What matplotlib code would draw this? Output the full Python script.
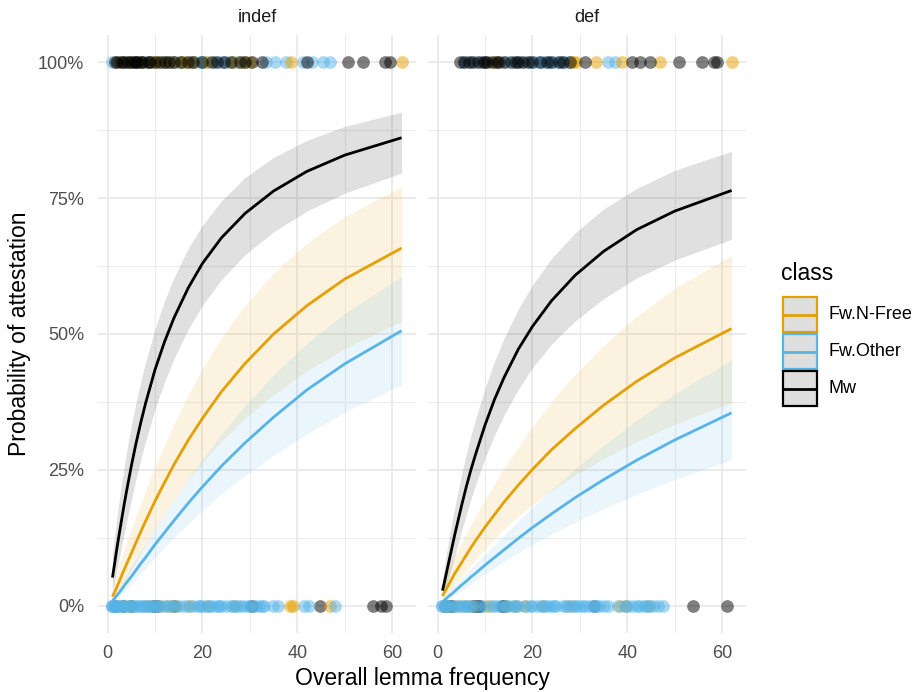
import matplotlib
matplotlib.use('Agg')
import matplotlib.pyplot as plt
from matplotlib.ticker import MultipleLocator, FuncFormatter
from matplotlib.patches import Rectangle

plt.rcParams['font.family'] = ['Liberation Sans', 'DejaVu Sans']

# ---------------- data ----------------
panels = ['indef', 'def']
classes = ['Fw.N-Free', 'Fw.Other', 'Mw']
colors = {'Fw.N-Free': '#E69F00', 'Fw.Other': '#56B4E9', 'Mw': '#000000'}

freq = [1, 1.25, 1.5, 1.75, 2, 2.5, 3, 3.5, 4, 5, 6, 7, 8, 10, 12, 14, 17, 20, 24, 29, 35, 42, 50, 62]

# predicted probability (%) with lower / upper confidence band, panel "indef"
indef_mw_fit = [5.2, 6.6, 8.0, 9.5, 10.9, 13.6, 16.2, 18.8, 21.2, 25.8, 30.0, 33.8, 37.3, 43.5, 48.6, 53.0,
                58.5, 63.0, 67.7, 72.2, 76.3, 79.9, 82.9, 86.1]
indef_mw_lo = [2.9, 3.8, 4.8, 5.9, 6.9, 9.0, 11.2, 13.4, 15.5, 19.5, 23.4, 27.0, 30.3, 36.2, 41.2, 45.5,
               50.9, 55.3, 60.0, 64.6, 68.8, 72.6, 75.9, 79.6]
indef_mw_hi = [9.3, 11.3, 13.1, 14.9, 16.7, 19.9, 22.9, 25.7, 28.4, 33.2, 37.5, 41.4, 44.9, 51.0, 56.1, 60.4,
               65.8, 70.0, 74.5, 78.8, 82.5, 85.6, 88.2, 90.8]
indef_nfree_fit = [1.7, 2.2, 2.6, 3.1, 3.6, 4.6, 5.7, 6.7, 7.7, 9.7, 11.7, 13.7, 15.6, 19.3, 22.7, 26.0,
                   30.5, 34.5, 39.4, 44.6, 50.0, 55.2, 60.1, 65.8]
indef_nfree_lo = [0.8, 1.1, 1.4, 1.7, 2.0, 2.7, 3.5, 4.2, 5.0, 6.6, 8.1, 9.7, 11.2, 14.2, 17.0, 19.6,
                  23.2, 26.4, 30.3, 34.5, 38.8, 43.2, 47.3, 52.4]
indef_nfree_hi = [3.5, 4.2, 5.0, 5.7, 6.4, 7.8, 9.1, 10.4, 11.7, 14.2, 16.6, 18.9, 21.2, 25.6, 29.6, 33.5,
                  38.8, 43.6, 49.3, 55.3, 61.2, 66.7, 71.6, 77.1]
indef_other_fit = [0.9, 1.2, 1.4, 1.7, 2.0, 2.5, 3.1, 3.7, 4.3, 5.4, 6.6, 7.8, 8.9, 11.3, 13.5, 15.7,
                   18.9, 21.9, 25.7, 30.0, 34.7, 39.7, 44.5, 50.6]
indef_other_lo = [0.5, 0.7, 0.9, 1.1, 1.3, 1.7, 2.2, 2.6, 3.1, 4.0, 5.0, 6.0, 7.0, 8.9, 10.8, 12.6,
                  15.1, 17.6, 20.6, 24.0, 27.7, 31.6, 35.6, 40.7]
indef_other_hi = [1.5, 1.9, 2.3, 2.6, 3.0, 3.7, 4.4, 5.1, 5.9, 7.3, 8.7, 10.0, 11.4, 14.2, 16.9, 19.5,
                  23.4, 27.0, 31.6, 36.9, 42.5, 48.3, 53.8, 60.5]

# panel "def"
def_mw_fit = [2.8, 3.7, 4.7, 5.7, 6.7, 8.7, 10.7, 12.7, 14.6, 18.3, 21.8, 25.0, 27.9, 33.3, 38.0, 42.0,
              47.2, 51.4, 56.1, 60.8, 65.2, 69.2, 72.6, 76.4]
def_mw_lo = [1.5, 2.2, 2.8, 3.5, 4.3, 5.8, 7.4, 8.9, 10.5, 13.7, 16.7, 19.6, 22.3, 27.2, 31.4, 35.1,
             39.8, 43.8, 48.1, 52.4, 56.5, 60.3, 63.6, 67.4]
def_mw_hi = [5.0, 6.4, 7.7, 9.1, 10.4, 13.0, 15.4, 17.7, 19.9, 24.0, 27.8, 31.3, 34.4, 40.1, 45.0, 49.2,
             54.6, 59.0, 63.9, 68.6, 73.0, 76.8, 80.1, 83.6]
def_nfree_fit = [1.8, 2.2, 2.6, 3.0, 3.4, 4.2, 5.0, 5.8, 6.5, 7.9, 9.3, 10.7, 12.0, 14.5, 16.8, 19.1,
                 22.2, 25.1, 28.7, 32.6, 36.9, 41.3, 45.6, 51.0]
def_nfree_lo = [0.9, 1.1, 1.4, 1.7, 1.9, 2.5, 3.0, 3.6, 4.2, 5.3, 6.4, 7.5, 8.5, 10.5, 12.4, 14.1,
                16.5, 18.6, 21.2, 24.0, 27.1, 30.2, 33.4, 37.4]
def_nfree_hi = [3.8, 4.4, 5.0, 5.5, 6.1, 7.1, 8.1, 9.0, 9.9, 11.7, 13.3, 15.0, 16.5, 19.6, 22.5, 25.3,
                29.2, 33.0, 37.5, 42.6, 47.9, 53.3, 58.4, 64.5]
def_other_fit = [0.7, 0.9, 1.1, 1.3, 1.5, 1.9, 2.2, 2.6, 3.0, 3.8, 4.5, 5.3, 6.0, 7.5, 8.9, 10.3,
                 12.4, 14.4, 16.9, 19.9, 23.2, 26.8, 30.5, 35.5]
def_other_lo = [0.4, 0.5, 0.7, 0.8, 1.0, 1.3, 1.6, 1.9, 2.2, 2.8, 3.4, 4.0, 4.7, 5.9, 7.0, 8.2,
                9.8, 11.3, 13.2, 15.4, 17.9, 20.5, 23.2, 26.9]
def_other_hi = [1.2, 1.5, 1.7, 2.0, 2.2, 2.7, 3.2, 3.7, 4.1, 5.1, 6.0, 6.9, 7.8, 9.5, 11.3, 13.0,
                15.6, 18.1, 21.4, 25.2, 29.5, 34.2, 39.0, 45.2]

# observed lemmas: frequency of attested (1) and unattested (0) items
indef_mw_1 = [1.5, 2, 3, 3.5, 4.2, 5, 5.5, 6, 6.2, 7, 7.5, 8.5, 9, 10, 11, 12, 13, 14, 15.5, 17, 18, 20,
              22, 23, 24.5, 26, 28, 29, 30.5, 32.5, 42, 50.7, 53.9, 58.5, 59.5]
indef_other_1 = [1, 2.5, 3, 4, 5, 6, 7, 8.5, 9, 10.5, 11.5, 12, 13, 14, 15, 16, 17.5, 18.5, 19.5, 20, 21,
                 22.5, 24, 25, 26.5, 27.5, 29, 33.5, 35.2, 37.7, 41.2, 43, 45.4, 46.8]
indef_nfree_1 = [2.5, 4.5, 7, 9.5, 10.5, 12, 13.5, 15.5, 16.5, 18, 21, 26.5, 28.5, 30, 38.7, 62]
indef_mw_0 = [1.5, 3.2, 5, 9.5, 10.5, 14, 30.5, 44.7, 56, 57.7, 58.8]
indef_other_0 = [1, 1, 1, 1.5, 2, 2, 2.5, 3, 3.5, 4, 4.5, 5, 5.5, 6, 6.5, 7, 7.5, 8, 8.5, 9, 9.5, 10,
                 10.5, 11, 12, 12.5, 13.5, 14, 15, 16, 17, 18, 19, 19.5, 20, 21, 21.5, 22, 23, 23.5, 24,
                 25, 26, 26.5, 27, 28, 28.5, 29.5, 30, 31, 32, 32.5, 33, 34.9, 36, 41.5, 42.5, 47.9]
indef_nfree_0 = [3, 5, 8, 11, 13, 14.5, 17.3, 21, 26.8, 38.4, 39, 46.8]

def_mw_1 = [4.7, 5.5, 6.5, 7.5, 8.5, 9.5, 10, 10.5, 11.5, 12.5, 13, 14, 15.5, 16.5, 17, 18, 19, 20, 21.5,
            23, 24, 25.5, 26.5, 28, 31.1, 40.9, 42.7, 44.8, 51, 55.7, 58.2, 59]
def_other_1 = [5.5, 7, 9, 12, 14.5, 16, 17.5, 19.5, 20.5, 21.5, 22.5, 23.5, 24.5, 25.5, 26.5, 27.5, 36, 37.5]
def_nfree_1 = [12, 28.5, 29.2, 33.5, 38.8, 46.9, 62]
def_mw_0 = [1.5, 2.5, 3, 7.5, 8, 8.5, 9, 13.5, 14, 33, 53.9, 61]
def_other_0 = [1, 1, 1.5, 2, 2.5, 3, 3.5, 4.5, 5, 5.5, 6, 6.5, 7, 8, 9, 10, 11.5, 12, 13, 14, 14.5, 15,
               16, 16.5, 17, 18.5, 19.5, 20, 21, 22, 22.5, 23, 24, 24.5, 25, 26.5, 27, 27.5, 28.5, 29,
               29.5, 30.5, 31, 32, 33, 33.5, 34, 35, 36, 38, 39.5, 40, 41, 42, 42.5, 43.5, 44, 44.5,
               45.5, 46.5, 47.5]
def_nfree_0 = [1.8, 4, 6, 7.5, 10.8, 14.5, 16, 18.5, 22, 28, 38.5, 39.8, 44.5]

curves = {
    'indef': {'Mw': (indef_mw_fit, indef_mw_lo, indef_mw_hi),
              'Fw.N-Free': (indef_nfree_fit, indef_nfree_lo, indef_nfree_hi),
              'Fw.Other': (indef_other_fit, indef_other_lo, indef_other_hi)},
    'def': {'Mw': (def_mw_fit, def_mw_lo, def_mw_hi),
            'Fw.N-Free': (def_nfree_fit, def_nfree_lo, def_nfree_hi),
            'Fw.Other': (def_other_fit, def_other_lo, def_other_hi)},
}
points = {
    'indef': {'Mw': (indef_mw_0, indef_mw_1), 'Fw.N-Free': (indef_nfree_0, indef_nfree_1),
              'Fw.Other': (indef_other_0, indef_other_1)},
    'def': {'Mw': (def_mw_0, def_mw_1), 'Fw.N-Free': (def_nfree_0, def_nfree_1),
            'Fw.Other': (def_other_0, def_other_1)},
}

# ---------------- figure ----------------
W, H = 920, 692
fig = plt.figure(figsize=(W / 100, H / 100), dpi=100)


def px_axes(x0, y0, x1, y1):
    return fig.add_axes([x0 / W, 1 - y1 / H, (x1 - x0) / W, (y1 - y0) / H])


grid_col = '#EBEBEB'
tick_col = '#4D4D4D'
axes = [px_axes(98, 35, 416, 633), px_axes(428, 35, 746, 633)]

for i, (ax, panel) in enumerate(zip(axes, panels)):
    ax.set_facecolor('white')
    for s in ax.spines.values():
        s.set_visible(False)
    ax.set_xlim(-2.05, 65.05)
    ax.set_ylim(-0.05, 1.05)
    ax.xaxis.set_major_locator(MultipleLocator(20))
    ax.xaxis.set_minor_locator(MultipleLocator(10))
    ax.yaxis.set_major_locator(MultipleLocator(0.25))
    ax.yaxis.set_minor_locator(MultipleLocator(0.125))
    ax.grid(which='major', color=grid_col, lw=1.5, zorder=0)
    ax.grid(which='minor', color=grid_col, lw=0.75, zorder=0)
    ax.set_axisbelow(True)
    ax.tick_params(which='both', length=0)
    ax.tick_params(axis='x', labelsize=13, labelcolor=tick_col, pad=9)
    ax.tick_params(axis='y', labelsize=13, labelcolor=tick_col, pad=10)
    ax.xaxis.set_major_formatter(FuncFormatter(lambda v, p: f'{v:.0f}'))
    if i == 0:
        ax.yaxis.set_major_formatter(FuncFormatter(lambda v, p: f'{v * 100:.0f}%'))
    else:
        ax.set_yticklabels([])
    ax.set_title(panel, fontsize=13, color='#1A1A1A', pad=9)

    # points: unattested row (blue drawn last), attested row (Mw drawn last)
    for cls in ['Mw', 'Fw.N-Free', 'Fw.Other']:
        x0s = points[panel][cls][0]
        ax.scatter(x0s, [0] * len(x0s), s=84, color=colors[cls], alpha=0.5, linewidths=0, zorder=2)
    for cls in ['Fw.Other', 'Fw.N-Free', 'Mw']:
        x1s = points[panel][cls][1]
        ax.scatter(x1s, [1] * len(x1s), s=84, color=colors[cls], alpha=0.5, linewidths=0, zorder=2)
    # ribbons
    for cls in classes:
        fit, lo, hi = curves[panel][cls]
        ax.fill_between(freq, [v / 100 for v in lo], [v / 100 for v in hi],
                        color=colors[cls], alpha=0.12, linewidth=0, zorder=3)
    # lines
    for cls in classes:
        fit, lo, hi = curves[panel][cls]
        ax.plot(freq, [v / 100 for v in fit], color=colors[cls], lw=2.0, zorder=4,
                solid_capstyle='butt', solid_joinstyle='round')

fig.text(422 / W, 1 - 679 / H, 'Overall lemma frequency', ha='center', va='center', fontsize=16.5)
fig.text(20 / W, 1 - 334 / H, 'Probability of attestation', ha='center', va='center',
         rotation=90, fontsize=16.5)

# legend
lax = px_axes(770, 255, 920, 415)
lax.set_xlim(770, 920)
lax.set_ylim(415, 255)
lax.axis('off')
lax.text(781, 273, 'class', fontsize=16.5, va='center', ha='left')
key_top = [296, 333, 370]
for cls, yt in zip(classes, key_top):
    lax.add_patch(Rectangle((782.5, yt + 1), 34, 35, facecolor='#DEDEDE',
                            edgecolor=colors[cls], lw=1.6))
    lax.plot([783, 816], [yt + 18.5, yt + 18.5], color=colors[cls], lw=2.0)
    lax.text(829, yt + 18.5, cls, fontsize=13, va='center', ha='left')

fig.savefig('out.png', dpi=100)
